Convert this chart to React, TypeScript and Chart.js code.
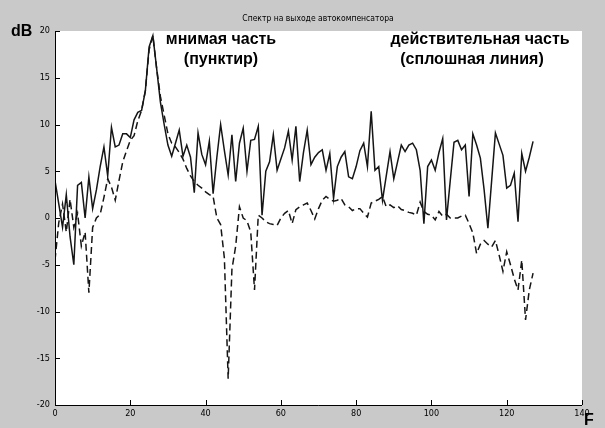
import React, { useEffect, useRef } from "react";
import { Chart, registerables } from "chart.js";
Chart.register(...registerables);

// Tick labels
const xTicks = [0, 20, 40, 60, 80, 100, 120, 140];
const yTicks = [-20, -15, -10, -5, 0, 5, 10, 15, 20];

// Real part (solid line), F = 0..127, dB
const realPart = [
  4, 1.5, -1, 2.5, -2, -5, 3.5, 3.8, 0, 4.4,
  1, 3, 5.5, 7.6, 4.5, 9.7, 7.6, 7.8, 9, 9,
  8.6, 10.5, 11.3, 11.5, 13.6, 18.3, 19.5, 16, 12.4, 10,
  7.8, 6.6, 8, 9.4, 6.6, 7.8, 6.5, 2.7, 9.1, 6.8,
  5.7, 8.2, 2.6, 6.5, 10, 7.2, 4.6, 8.9, 3.9, 8,
  9.6, 5, 8.3, 8.4, 9.8, 0.3, 5, 6, 8.9, 5.1,
  6.3, 7.5, 9.3, 6.2, 9.8, 3.9, 7, 9.4, 5.7, 6.5,
  7, 7.3, 5.1, 6.9, 2.1, 5.5, 6.5, 7.1, 4.4, 4.2,
  5.5, 7.2, 8, 5.5, 11.4, 5.1, 5.5, 1.9, 4.5, 7.1,
  4.2, 6, 7.8, 7.1, 7.8, 8, 7.3, 5.1, -0.6, 5.5,
  6.2, 5.1, 7, 8.5, -0.2, 4, 8.1, 8.3, 7.3, 7.8,
  2.3, 9, 7.8, 6.4, 3, -1.1, 4, 9.1, 7.9, 6.7,
  3.2, 3.5, 4.8, -0.4, 6.9, 5, 6.5, 8.2,
];

// Imaginary part (dashed line), F = 0..127, dB
const imagPart = [
  -4.5, -0.5, 1.5, -1.5, 2, -1, 0.5, -3, -1.5, -8,
  -1, 0, 0.4, 2.2, 4.2, 3.3, 1.9, 4, 6, 7.2,
  8.3, 8.8, 10.4, 11.5, 13.6, 18, 19.5, 16, 13, 11,
  9, 8, 7.6, 7, 6.3, 5.3, 4.5, 3.9, 3.5, 3.2,
  2.8, 2.5, 2.3, 0, -0.7, -4.3, -17.2, -5.5, -3, 1.2,
  0, -0.3, -1.5, -7.7, 0.3, 0, -0.4, -0.6, -0.7, -0.8,
  0, 0.5, 0.8, -0.6, 0.9, 1.2, 1.4, 1.6, 0.8, -0.1,
  1, 1.9, 2.3, 2, 1.8, 1.9, 2.1, 1.4, 1.2, 0.8,
  1, 1, 0.5, 0.1, 1.6, 1.8, 2, 2.3, 1.2, 1.4,
  1.1, 1.3, 0.9, 0.8, 0.6, 0.5, 0.3, 1.7, 0.7, 0.4,
  0.3, -0.2, 0.7, 0.2, 0.4, 0, 0, 0, 0.2, 0.3,
  -0.6, -1.6, -3.8, -2.8, -2.4, -2.8, -3.1, -2.4, -4, -5.7,
  -3.6, -5, -6.5, -7.7, -4.5, -10.9, -7.7, -5.9,
];

const titleText = "Спектр на выходе автокомпенсатора";
const yUnit = "dB";
const xUnit = "F";
const imagLabel = ["мнимая часть", "(пунктир)"];
const realLabel = ["действительная часть", "(сплошная линия)"];

const NARROW = '"Liberation Sans Narrow", "DejaVu Sans Condensed", "Arial Narrow", sans-serif';
const BOLD = '"Liberation Sans", Arial, sans-serif';

export default function App() {
  const ref = useRef<HTMLCanvasElement | null>(null);

  useEffect(() => {
    if (!ref.current) return;

    const decor = {
      id: "decor",
      beforeDraw(chart: any) {
        const { ctx, chartArea } = chart;
        ctx.save();
        ctx.fillStyle = "#c9c9c9";
        ctx.fillRect(0, 0, chart.width, chart.height);
        ctx.fillStyle = "#ffffff";
        ctx.fillRect(chartArea.left, chartArea.top, chartArea.right - chartArea.left, chartArea.bottom - chartArea.top);
        ctx.restore();
      },
      afterDraw(chart: any) {
        const { ctx, chartArea, scales } = chart;
        const xs = scales.x;
        const ys = scales.y;
        ctx.save();
        ctx.strokeStyle = "#000";
        ctx.lineWidth = 1;
        ctx.beginPath();
        ctx.moveTo(chartArea.left + 0.5, chartArea.top);
        ctx.lineTo(chartArea.left + 0.5, chartArea.bottom + 0.5);
        ctx.lineTo(chartArea.right, chartArea.bottom + 0.5);
        for (const t of xTicks) {
          const px = Math.round(xs.getPixelForValue(t)) + 0.5;
          ctx.moveTo(px, chartArea.bottom);
          ctx.lineTo(px, chartArea.bottom - 5);
        }
        for (const t of yTicks) {
          const py = Math.round(ys.getPixelForValue(t)) + 0.5;
          ctx.moveTo(chartArea.left, py);
          ctx.lineTo(chartArea.left + 5, py);
        }
        ctx.stroke();

        ctx.fillStyle = "#000";
        ctx.textBaseline = "middle";
        ctx.textAlign = "center";
        ctx.font = `8.5px ${NARROW}`;
        ctx.fillText(titleText, 318, 19);

        ctx.font = `bold 16px ${BOLD}`;
        ctx.textAlign = "left";
        ctx.fillText(yUnit, 11, 32);
        ctx.fillText(xUnit, 584, 421);

        ctx.textAlign = "center";
        ctx.fillText(imagLabel[0], 221, 40);
        ctx.fillText(imagLabel[1], 221, 60);
        ctx.fillText(realLabel[0], 480, 40);
        ctx.fillText(realLabel[1], 472, 60);
        ctx.restore();
      },
    };

    const chart = new Chart(ref.current, {
      type: "line",
      data: {
        datasets: [
          {
            label: "real",
            data: realPart.map((v, i) => ({ x: i, y: v })),
            borderColor: "#151515",
            borderWidth: 1.5,
            pointRadius: 0,
            tension: 0,
            fill: false,
          },
          {
            label: "imag",
            data: imagPart.map((v, i) => ({ x: i, y: v })),
            borderColor: "#151515",
            borderWidth: 1.5,
            borderDash: [7, 4],
            pointRadius: 0,
            tension: 0,
            fill: false,
          },
        ],
      },
      options: {
        responsive: false,
        animation: false,
        events: [],
        layout: { padding: { top: 31, right: 23, left: 0, bottom: 0 } },
        plugins: {
          legend: { display: false },
          title: { display: false },
          tooltip: { enabled: false },
        },
        scales: {
          x: {
            type: "linear",
            min: 0,
            max: 140,
            afterBuildTicks: (s: any) => {
              s.ticks = xTicks.map((v) => ({ value: v }));
            },
            afterFit: (s: any) => {
              s.height = 23;
            },
            grid: { display: false, drawTicks: false },
            border: { display: false },
            ticks: {
              color: "#000",
              font: { family: NARROW, size: 9 },
              padding: 3,
              maxRotation: 0,
              autoSkip: false,
            },
          },
          y: {
            type: "linear",
            min: -20,
            max: 20,
            afterBuildTicks: (s: any) => {
              s.ticks = yTicks.map((v) => ({ value: v }));
            },
            afterFit: (s: any) => {
              s.width = 55;
            },
            grid: { display: false, drawTicks: false },
            border: { display: false },
            ticks: {
              color: "#000",
              font: { family: NARROW, size: 9 },
              padding: 5,
              autoSkip: false,
            },
          },
        },
      },
      plugins: [decor],
    } as any);

    return () => chart.destroy();
  }, []);

  return (
    <div style={{ position: "absolute", left: 0, top: 0, width: 605, height: 428 }}>
      <canvas ref={ref} width={605} height={428} style={{ display: "block" }} />
    </div>
  );
}
